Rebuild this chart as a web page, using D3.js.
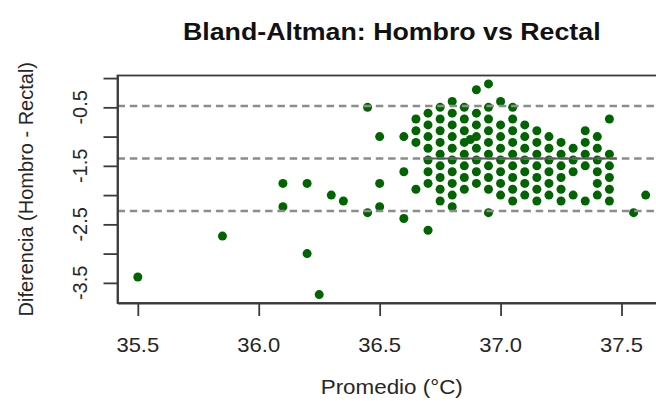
<!DOCTYPE html>
<html><head><meta charset="utf-8">
<script src="https://cdn.jsdelivr.net/npm/d3@7"></script>
<style>body{margin:0;background:#fff} svg{display:block}</style>
</head><body>
<svg id="c" width="656" height="401"></svg>
<script>
// Promedio (°C) columns and the differences (Hombro - Rectal) observed in each column
const promedios = [35.5, 35.85, 36.1, 36.2, 36.25, 36.3, 36.35, 36.45, 36.5, 36.6, 36.65, 36.7, 36.75, 36.8, 36.85, 36.875, 36.9, 36.95, 37.0, 37.05, 37.1, 37.15, 37.2, 37.25, 37.3, 37.35, 37.4, 37.45, 37.55, 37.6];
const diferencias = [
  [-3.4],
  [-2.7],
  [-1.8, -2.2],
  [-1.8, -3.0],
  [-3.7],
  [-2.0],
  [-2.1],
  [-0.5, -2.3],
  [-1.0, -1.8, -2.2],
  [-1.0, -1.6, -2.4],
  [-0.7, -0.9, -1.1, -1.9],
  [-0.6, -0.8, -1.0, -1.2, -1.4, -1.6, -1.8, -2.6],
  [-0.5, -0.7, -0.9, -1.1, -1.3, -1.5, -1.7, -1.9, -2.1],
  [-0.4, -0.6, -0.8, -1.0, -1.2, -1.4, -1.6, -1.8, -2.0, -2.2],
  [-0.5, -0.7, -0.9, -1.1, -1.3, -1.5, -1.7, -1.9],
  [-1.05],
  [-0.2, -0.6, -0.8, -1.0, -1.2, -1.4, -1.6, -1.8],
  [-0.1, -0.5, -0.7, -0.9, -1.1, -1.3, -1.5, -1.7, -1.9, -2.3],
  [-0.4, -0.8, -1.0, -1.2, -1.4, -1.6, -1.8, -2.0],
  [-0.5, -0.7, -0.9, -1.1, -1.3, -1.5, -1.7, -1.9, -2.1],
  [-0.8, -1.0, -1.2, -1.4, -1.6, -1.8, -2.0],
  [-0.9, -1.1, -1.3, -1.5, -1.7, -1.9, -2.1],
  [-1.0, -1.2, -1.4, -1.6, -1.8, -2.0],
  [-1.1, -1.3, -1.5, -1.7, -1.9, -2.1],
  [-1.2, -1.4, -1.6, -2.0],
  [-0.9, -1.1, -1.3, -1.5, -2.1],
  [-1.0, -1.2, -1.4, -1.6, -1.8, -2.0],
  [-0.7, -1.3, -1.5, -1.7, -1.9, -2.1],
  [-2.3],
  [-2.0]
];
const media = -1.375;
const limites = [-0.478, -1.375, -2.272];
const segmentoMedia = [36.68, 37.48];
const xTicks = [35.5, 36.0, 36.5, 37.0, 37.5];
const yTicks = [0, -0.5, -1.0, -1.5, -2.0, -2.5, -3.0, -3.5];
const yTickLabels = [-0.5, -1.5, -2.5, -3.5];
const titulo = "Bland-Altman: Hombro vs Rectal";
const xTitulo = "Promedio (°C)";
const yTitulo = "Diferencia (Hombro - Rectal)";

const puntos = [];
promedios.forEach((p, i) => diferencias[i].forEach(d => puntos.push({p, d})));

const svg = d3.select("#c");
const L = 117.5, R = 666, T = 75.5, B = 303;
const xe = d3.extent(puntos, d => d.p), ye = d3.extent(puntos, d => d.d);
const xp = (xe[1] - xe[0]) * 0.04, yp = (ye[1] - ye[0]) * 0.04;
const x = d3.scaleLinear().domain([xe[0] - xp, xe[1] + xp]).range([L, R]);
const y = d3.scaleLinear().domain([ye[0] - yp, ye[1] + yp]).range([B, T]);

const font = "'Liberation Sans', Arial, sans-serif";
const ink = "#262626";

// points
svg.append("g").selectAll("circle").data(puntos).join("circle")
  .attr("cx", d => x(d.p)).attr("cy", d => y(d.d)).attr("r", 4.5)
  .attr("fill", "#006400");

// dashed lines
svg.append("g").selectAll("line").data(limites).join("line")
  .attr("x1", L).attr("x2", R).attr("y1", d => y(d)).attr("y2", d => y(d))
  .attr("stroke", "#8c8c8c").attr("stroke-width", 2.6).attr("stroke-dasharray", "7.5,4.8");

svg.append("line")
  .attr("x1", x(segmentoMedia[0])).attr("x2", x(segmentoMedia[1]))
  .attr("y1", y(media)).attr("y2", y(media))
  .attr("stroke", "#5a5a5a").attr("stroke-width", 2);

// axes ticks
const gx = svg.append("g").attr("transform", `translate(0,${B})`)
  .call(d3.axisBottom(x).tickValues(xTicks).tickSize(13).tickSizeOuter(0).tickFormat(""));
const gy = svg.append("g").attr("transform", `translate(${L},0)`)
  .call(d3.axisLeft(y).tickValues(yTicks).tickSize(14).tickSizeOuter(0).tickFormat(""));
[gx, gy].forEach(g => {
  g.selectAll("line").attr("stroke", "#3a3a3a").attr("stroke-width", 1.8);
  g.select(".domain").attr("stroke", "#3a3a3a").attr("stroke-width", 1.8);
});

// box
svg.append("rect").attr("x", L).attr("y", T).attr("width", R - L).attr("height", B - T)
  .attr("fill", "none").attr("stroke", "#3a3a3a").attr("stroke-width", 1.8);

// x tick labels
svg.append("g").selectAll("text").data(xTicks).join("text")
  .attr("transform", d => `translate(${x(d)},352) scale(1.1,1)`)
  .attr("text-anchor", "middle").attr("font-family", font).attr("font-size", 20)
  .attr("fill", ink).text(d => d.toFixed(1));

// y tick labels (rotated)
svg.append("g").selectAll("text").data(yTickLabels).join("text")
  .attr("transform", d => `translate(87,${y(d)}) rotate(-90)`)
  .attr("text-anchor", "middle").attr("font-family", font).attr("font-size", 20)
  .attr("fill", ink).text(d => d.toFixed(1));

// titles
const cx = (L + R) / 2;
svg.append("text").attr("transform", `translate(${cx},40) scale(1.115,1)`)
  .attr("text-anchor", "middle").attr("font-family", font).attr("font-size", 24)
  .attr("font-weight", "bold").attr("fill", "#111").text(titulo);
svg.append("text").attr("transform", `translate(${cx},394) scale(1.12,1)`)
  .attr("text-anchor", "middle").attr("font-family", font).attr("font-size", 20)
  .attr("fill", ink).text(xTitulo);
svg.append("text").attr("transform", `translate(33,${(T + B) / 2}) rotate(-90)`)
  .attr("text-anchor", "middle").attr("font-family", font).attr("font-size", 20)
  .attr("fill", ink).text(yTitulo);
</script>
</body></html>
